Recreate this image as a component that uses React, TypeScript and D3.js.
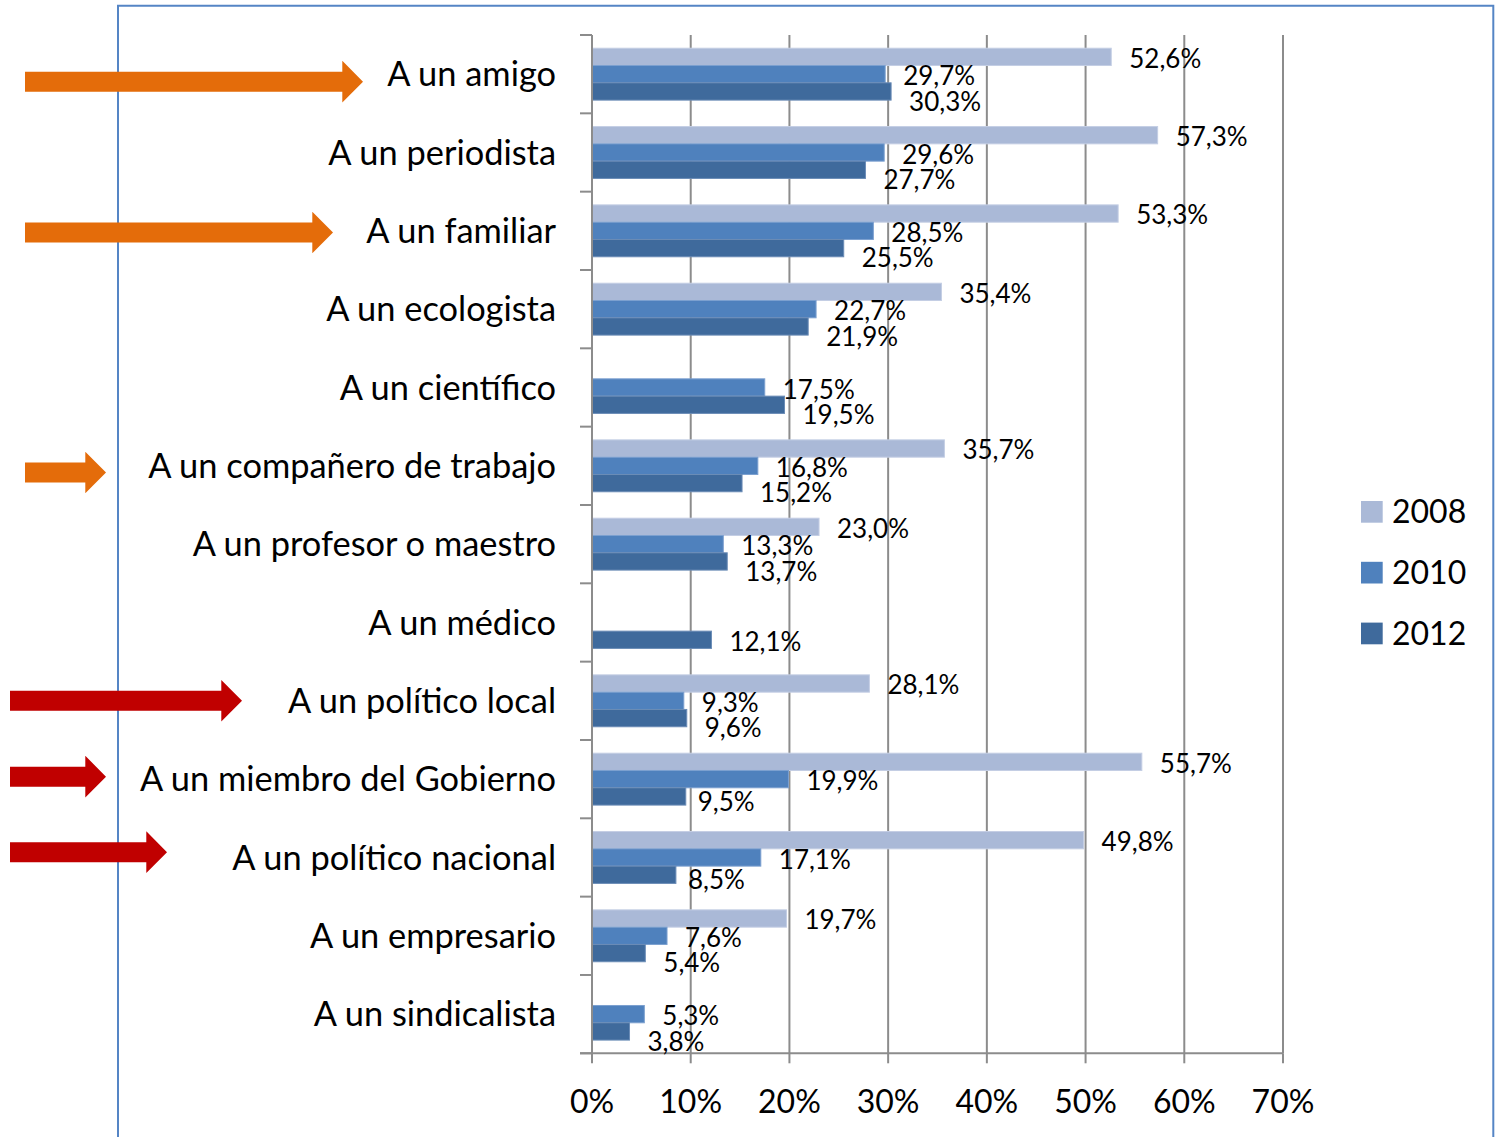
import React from "react";
import * as d3 from "d3";

const categories = [
  "A un amigo",
  "A un periodista",
  "A un familiar",
  "A un ecologista",
  "A un científico",
  "A un compañero de trabajo",
  "A un profesor o maestro",
  "A un médico",
  "A un político local",
  "A un miembro del Gobierno",
  "A un político nacional",
  "A un empresario",
  "A un sindicalista",
];

const seriesNames = ["2008", "2010", "2012"];

const values2008: (number | null)[] = [52.6, 57.3, 53.3, 35.4, null, 35.7, 23.0, null, 28.1, 55.7, 49.8, 19.7, null];
const values2010: (number | null)[] = [29.7, 29.6, 28.5, 22.7, 17.5, 16.8, 13.3, null, 9.3, 19.9, 17.1, 7.6, 5.3];
const values2012: (number | null)[] = [30.3, 27.7, 25.5, 21.9, 19.5, 15.2, 13.7, 12.1, 9.6, 9.5, 8.5, 5.4, 3.8];

const tickValues = [0, 10, 20, 30, 40, 50, 60, 70];

// annotation arrows: category they point at, colour, start / tip x, vertical nudge
const arrows = [
  { cat: "A un amigo", color: "#E46C0A", x0: 25, tip: 363, dy: 7.5 },
  { cat: "A un familiar", color: "#E46C0A", x0: 25, tip: 333, dy: 1.7 },
  { cat: "A un compañero de trabajo", color: "#E46C0A", x0: 25, tip: 106, dy: 6.7 },
  { cat: "A un político local", color: "#C00000", x0: 10, tip: 242, dy: 0 },
  { cat: "A un miembro del Gobierno", color: "#C00000", x0: 10, tip: 106, dy: -2.5 },
  { cat: "A un político nacional", color: "#C00000", x0: 10, tip: 167, dy: -5.3 },
];

const colors: Record<string, string> = {
  "2008": "#AAB9D7",
  "2010": "#4F81BD",
  "2012": "#3F6A9C",
};
const strokes: Record<string, string> = {
  "2008": "#C4CEE4",
  "2010": "#7CA0CF",
  "2012": "#6B8CB6",
};

const FONT = "Lato, 'Open Sans', sans-serif";

export default function App() {
  const W = 1499;
  const H = 1137;
  const x = d3.scaleLinear().domain([0, 70]).range([592, 1283]);
  const y = d3.scaleBand<string>().domain(categories).range([35, 1053.3]).paddingInner(0).paddingOuter(0);
  const ySub = d3.scaleBand<string>().domain(seriesNames).range([0, y.bandwidth()]).paddingInner(0).paddingOuter(0.764);
  const top = 35;
  const bottom = 1053.3;
  const x0 = x(0);

  const seriesData: Record<string, (number | null)[]> = {
    "2008": values2008,
    "2010": values2010,
    "2012": values2012,
  };

  const fmt = (v: number) => v.toFixed(1).replace(".", ",") + "%";
  const valFont = 26;
  const catFont = 34.4;
  const capHalf = (f: number) => 0.358 * f;

  const labelDy = (s: string, i: number) => {
    if (s === "2008") return 1.5;
    if (s === "2010") return 2;
    const v10 = values2010[i];
    const v12 = values2012[i] as number;
    if (v10 == null) return 2;
    return Math.abs(v10 - v12) < 5 ? 10 : 5;
  };
  const labelDx = (s: string, i: number) => {
    if (s !== "2012") return 18;
    const v10 = values2010[i];
    const v12 = values2012[i] as number;
    if (v10 != null && v10 - v12 > 5) return 12;
    return 18;
  };

  const boundaries = d3.range(categories.length + 1).map((k) => top + k * y.step());

  const arrowPath = (x0a: number, tip: number, cy: number) => {
    const shaftH = 10;
    const headH = 20.8;
    const headL = 20.7;
    const xb = tip - headL;
    return `M${x0a},${cy - shaftH}L${xb},${cy - shaftH}L${xb},${cy - headH}L${tip},${cy}L${xb},${cy + headH}L${xb},${cy + shaftH}L${x0a},${cy + shaftH}Z`;
  };

  return (
    <svg
      width={W}
      height={H}
      style={{ position: "absolute", left: 0, top: 0, background: "#fff", fontFamily: FONT }}
    >
      <rect x={0} y={0} width={W} height={H} fill="#fff" />
      {/* frame */}
      <path d={`M118,${H + 5}L118,5.7L1493.3,5.7L1493.3,${H + 5}`} fill="none" stroke="#5585C5" strokeWidth={2} />

      {/* gridlines */}
      {tickValues.slice(1).map((t) => (
        <line key={"g" + t} x1={x(t)} x2={x(t)} y1={top} y2={bottom} stroke="#8C8C8C" strokeWidth={2} />
      ))}

      {/* bars */}
      {seriesNames.map((s) =>
        categories.map((c, i) => {
          const v = seriesData[s][i];
          if (v == null) return null;
          const by = (y(c) as number) + (ySub(s) as number);
          return (
            <rect
              key={s + c}
              x={x0}
              y={by}
              width={x(v) - x0}
              height={ySub.bandwidth()}
              fill={colors[s]}
              stroke={strokes[s]}
              strokeWidth={1}
            />
          );
        })
      )}

      {/* axes */}
      <line x1={x0} x2={x0} y1={top} y2={bottom} stroke="#8C8C8C" strokeWidth={2} />
      <line x1={580} x2={x(70)} y1={bottom} y2={bottom} stroke="#8C8C8C" strokeWidth={2} />
      {boundaries.map((b, k) => (
        <line key={"t" + k} x1={580} x2={x0} y1={b} y2={b} stroke="#8C8C8C" strokeWidth={2} />
      ))}
      {tickValues.map((t) => (
        <line key={"bt" + t} x1={x(t)} x2={x(t)} y1={bottom} y2={bottom + 10} stroke="#8C8C8C" strokeWidth={2} />
      ))}

      {/* value labels */}
      {seriesNames.map((s) =>
        categories.map((c, i) => {
          const v = seriesData[s][i];
          if (v == null) return null;
          const cy = (y(c) as number) + (ySub(s) as number) + ySub.bandwidth() / 2;
          return (
            <text
              key={"l" + s + c}
              x={x(v) + labelDx(s, i)}
              y={cy + capHalf(valFont) + labelDy(s, i)}
              fontSize={valFont}
              fill="#000"
            >
              {fmt(v)}
            </text>
          );
        })
      )}

      {/* category labels */}
      {categories.map((c) => (
        <text
          key={"c" + c}
          x={556}
          y={(y(c) as number) + y.bandwidth() / 2 + capHalf(catFont)}
          fontSize={catFont}
          textAnchor="end"
          fill="#000"
        >
          {c}
        </text>
      ))}

      {/* x tick labels */}
      {tickValues.map((t) => (
        <text key={"xl" + t} x={x(t)} y={1113} fontSize={32} textAnchor="middle" fill="#000">
          {t + "%"}
        </text>
      ))}

      {/* legend */}
      {seriesNames.map((s, k) => {
        const ly = 501 + k * 60.8;
        return (
          <g key={"lg" + s}>
            <rect x={1361} y={ly} width={21.7} height={21.7} fill={colors[s]} />
            <text x={1392} y={ly + 22} fontSize={32} fill="#000">
              {s}
            </text>
          </g>
        );
      })}

      {/* arrows */}
      {arrows.map((a) => {
        const cy = (y(a.cat) as number) + y.bandwidth() / 2 + a.dy;
        return <path key={"a" + a.cat} d={arrowPath(a.x0, a.tip, cy)} fill={a.color} />;
      })}
    </svg>
  );
}
